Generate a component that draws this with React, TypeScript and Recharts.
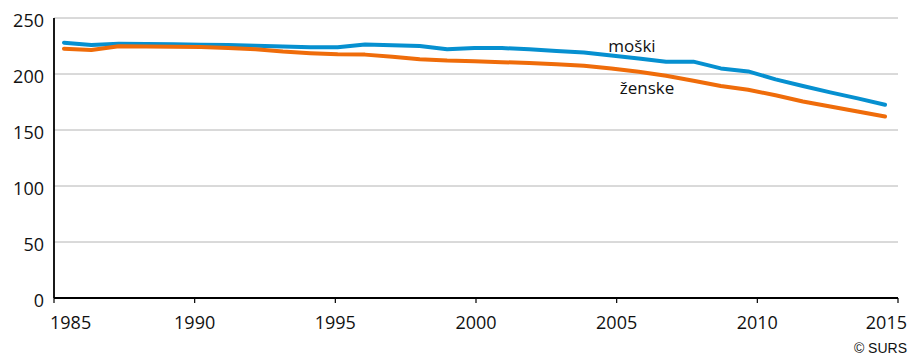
import React from 'react'
import { LineChart, Line, XAxis, YAxis, CartesianGrid, LabelList } from 'recharts'

const years = [
    1985, 1986, 1987, 1988, 1989, 1990, 1991, 1992, 1993, 1994,
    1995, 1996, 1997, 1998, 1999, 2000, 2001, 2002, 2003, 2004,
    2005, 2006, 2007, 2008, 2009, 2010, 2011, 2012, 2013, 2014, 2015,
]

const moski = [
    228.0, 225.9, 227.0, 226.8, 226.5, 226.2, 225.9, 225.3, 224.5, 223.8,
    223.9, 226.4, 225.6, 225.0, 222.0, 223.3, 223.2, 222.0, 220.5, 219.2,
    216.5, 213.8, 211.0, 211.0, 205.0, 202.3, 195.2, 189.3, 183.6, 178.2, 172.6,
]

const zenske = [
    222.6, 221.4, 224.7, 224.5, 224.3, 224.0, 223.2, 222.0, 220.0, 218.6,
    217.6, 217.3, 215.5, 213.2, 212.0, 211.4, 210.6, 209.8, 208.8, 207.4,
    205.0, 202.0, 198.5, 194.0, 189.3, 186.0, 181.0, 175.5, 171.0, 166.5, 162.0,
]

const seriesNames = ['moški', 'ženske']
const xTicks = [1985, 1990, 1995, 2000, 2005, 2010, 2015]
const yTicks = [0, 50, 100, 150, 200, 250]

const data = years.map((year, i) => ({ year, moski: moski[i], zenske: zenske[i] }))

const BLUE = '#0690d0'
const ORANGE = '#ef6c0a'
const FONT = '"Open Sans", sans-serif'

const seriesLabel = (name: string, at: number, dx: number, dy: number) => (props: any) => {
    if (props.index !== at) return null
    return (
        <text x={props.x + dx} y={props.y + dy} fontFamily={FONT} fontSize={17} fill="#111">
            {name}
        </text>
    )
}

// first and last year labels are pulled inside the plot, like the original
const YearTick = ({ x, y, payload, index }: any) => {
    let anchor = 'middle'
    let dx = 0
    if (index === 0) { anchor = 'start'; dx = -4 }
    if (index === xTicks.length - 1) { anchor = 'end'; dx = 9 }
    return (
        <text x={x + dx} y={y} dy="0.71em" textAnchor={anchor} fill="#111" fontSize={18} fontFamily={FONT}>
            {payload.value}
        </text>
    )
}

const App = () => {
    return (
        <div style={{ position: 'absolute', left: 0, top: 0, width: 910, height: 355 }}>
            <LineChart width={910} height={355} data={data} margin={{ top: 18, right: 12, left: 0, bottom: 27 }}>
                <CartesianGrid xAxisId="ticks" vertical={false} stroke="#b4b4b4" strokeWidth={1} />
                <XAxis
                    xAxisId="ticks"
                    dataKey="year"
                    type="number"
                    domain={[1985, 2015]}
                    allowDataOverflow
                    ticks={xTicks}
                    height={30}
                    axisLine={{ stroke: '#000', strokeWidth: 1.8 }}
                    tickLine={{ stroke: '#000', strokeWidth: 1.2 }}
                    tickSize={5}
                    tickMargin={13}
                    tick={<YearTick />}
                    interval={0}
                />
                <XAxis
                    xAxisId="data"
                    dataKey="year"
                    type="number"
                    domain={[1984.635, 2015.475]}
                    allowDataOverflow
                    height={0}
                    hide
                />
                <YAxis
                    domain={[0, 250]}
                    ticks={yTicks}
                    width={54}
                    axisLine={{ stroke: '#000', strokeWidth: 1.8 }}
                    tickLine={false}
                    tickSize={6}
                    tickMargin={4}
                    tick={{ fill: '#111', fontSize: 18, fontFamily: FONT, dy: 2.5 }}
                    interval={0}
                />
                <Line
                    xAxisId="data"
                    dataKey="moski"
                    name={seriesNames[0]}
                    type="linear"
                    stroke={BLUE}
                    strokeWidth={4}
                    strokeLinecap="round"
                    strokeLinejoin="round"
                    dot={false}
                    isAnimationActive={false}
                >
                    <LabelList dataKey="moski" content={seriesLabel(seriesNames[0], 20, -3, -3.5)} />
                </Line>
                <Line
                    xAxisId="data"
                    dataKey="zenske"
                    name={seriesNames[1]}
                    type="linear"
                    stroke={ORANGE}
                    strokeWidth={4}
                    strokeLinecap="round"
                    strokeLinejoin="round"
                    dot={false}
                    isAnimationActive={false}
                >
                    <LabelList dataKey="zenske" content={seriesLabel(seriesNames[1], 21, -19, 22)} />
                </Line>
            </LineChart>
            <div
                style={{
                    position: 'absolute', left: 780, top: 341, width: 127, textAlign: 'right',
                    fontFamily: '"Liberation Sans", Arial, sans-serif', fontSize: 14, lineHeight: '14px', color: '#111',
                }}
            >
                © SURS
            </div>
        </div>
    )
}

export default App
